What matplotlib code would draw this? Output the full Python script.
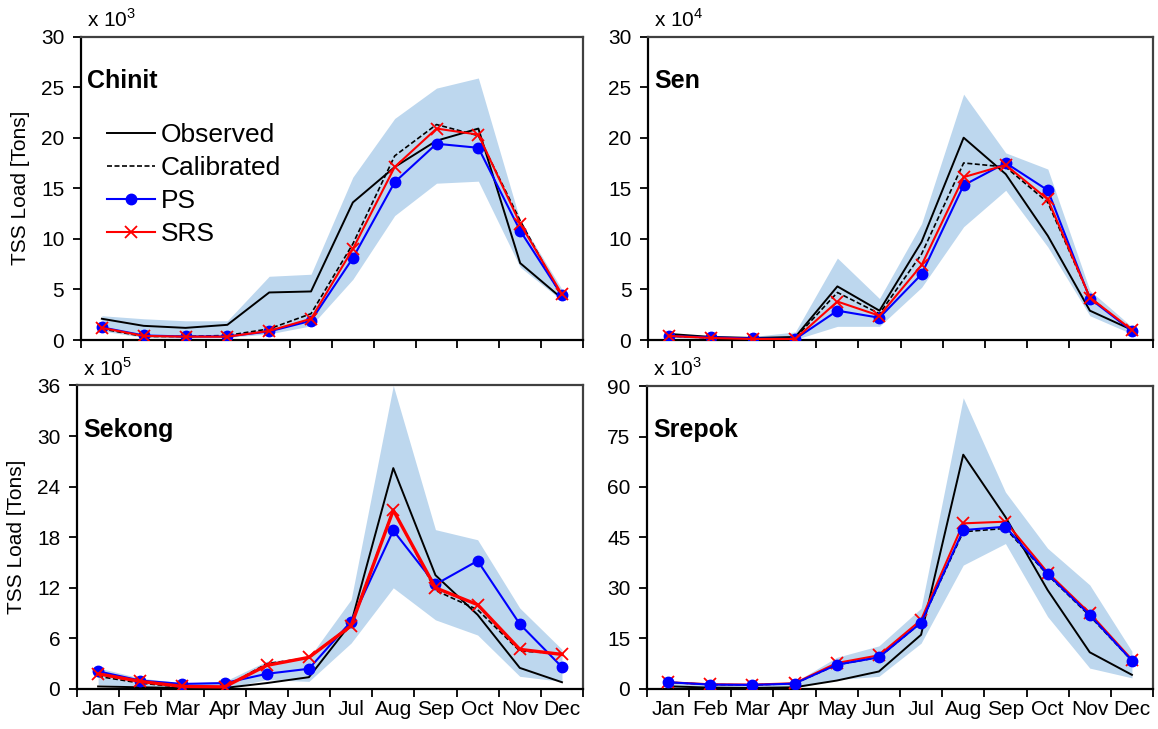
import numpy as np
import matplotlib
matplotlib.use('Agg')
import matplotlib.pyplot as plt

plt.rcParams['font.family'] = ['Liberation Sans', 'DejaVu Sans']
plt.rcParams['mathtext.fontset'] = 'custom'
plt.rcParams['mathtext.rm'] = 'Liberation Sans'

months = ['Jan', 'Feb', 'Mar', 'Apr', 'May', 'Jun', 'Jul', 'Aug', 'Sep', 'Oct', 'Nov', 'Dec']

# Chinit (x 10^3 tons)
chinit_obs = [2.1, 1.4, 1.2, 1.5, 4.7, 4.8, 13.6, 17.1, 19.7, 20.9, 7.6, 4.1]
chinit_cal = [1.1, 0.35, 0.35, 0.45, 1.1, 2.6, 9.5, 18.2, 21.3, 20.2, 11.8, 4.2]
chinit_ps = [1.25, 0.45, 0.35, 0.35, 0.85, 1.9, 8.1, 15.6, 19.4, 19.0, 10.8, 4.4]
chinit_srs = [1.2, 0.4, 0.33, 0.33, 0.9, 2.1, 9.0, 17.1, 20.9, 20.3, 11.5, 4.5]
chinit_hi = [2.4, 2.1, 1.9, 1.9, 6.3, 6.5, 16.1, 21.9, 24.9, 25.9, 11.8, 5.0]
chinit_lo = [0.9, 0.25, 0.2, 0.25, 0.6, 1.4, 6.0, 12.3, 15.5, 15.7, 7.2, 3.9]

# Sen (x 10^4 tons)
sen_obs = [0.6, 0.3, 0.2, 0.3, 5.3, 2.9, 9.7, 20.0, 16.4, 10.3, 2.9, 1.0]
sen_cal = [0.4, 0.2, 0.1, 0.2, 4.7, 2.6, 8.5, 17.5, 17.1, 13.6, 4.2, 0.9]
sen_ps = [0.4, 0.25, 0.15, 0.1, 2.9, 2.2, 6.5, 15.3, 17.5, 14.8, 4.1, 0.9]
sen_srs = [0.4, 0.2, 0.1, 0.1, 3.8, 2.4, 7.4, 16.1, 17.3, 13.9, 4.2, 1.0]
sen_hi = [0.6, 0.45, 0.35, 0.8, 8.1, 4.1, 11.5, 24.3, 18.5, 16.9, 4.9, 1.3]
sen_lo = [0.25, 0.1, 0.05, 0.05, 1.35, 1.35, 5.2, 11.2, 14.8, 9.2, 2.4, 0.6]

# Sekong (x 10^5 tons)
sekong_obs = [0.3, 0.2, 0.12, 0.12, 0.7, 1.4, 7.8, 26.2, 13.5, 8.8, 2.5, 0.8]
sekong_cal = [1.5, 0.7, 0.2, 0.2, 3.0, 3.7, 7.6, 21.3, 11.7, 9.4, 4.5, 4.2]
sekong_ps = [2.1, 1.0, 0.6, 0.7, 1.8, 2.4, 8.0, 18.8, 12.4, 15.2, 7.7, 2.6]
sekong_srs = [1.8, 0.9, 0.3, 0.25, 2.8, 3.75, 7.5, 21.2, 12.0, 10.0, 4.7, 4.1]
sekong_hi = [2.5, 1.3, 0.7, 0.9, 3.3, 3.7, 10.6, 36.0, 18.9, 17.7, 9.6, 4.7]
sekong_lo = [0.5, 0.3, 0.1, 0.1, 1.1, 0.9, 5.45, 12.0, 8.2, 6.4, 1.5, 0.9]

# Srepok (x 10^3 tons)
srepok_obs = [0.8, 0.4, 0.3, 0.5, 2.5, 5.2, 16.1, 69.6, 51.1, 29.4, 10.9, 4.2]
srepok_cal = [2.0, 1.3, 1.2, 1.6, 7.2, 9.4, 19.7, 46.7, 47.7, 33.9, 21.7, 8.4]
srepok_ps = [2.0, 1.3, 1.2, 1.6, 7.2, 9.4, 19.7, 47.2, 48.2, 34.1, 22.0, 8.4]
srepok_srs = [2.0, 1.4, 1.3, 1.7, 7.7, 10.0, 20.5, 49.2, 49.7, 34.6, 22.5, 8.7]
srepok_hi = [2.3, 1.8, 1.6, 2.0, 9.4, 12.8, 24.0, 86.5, 58.5, 41.8, 30.9, 11.2]
srepok_lo = [0.3, 0.1, 0.1, 0.3, 2.8, 3.75, 13.6, 36.8, 43.2, 21.5, 6.2, 3.3]

panels = [
    ('Chinit', '3', 30, 5, chinit_obs, chinit_cal, chinit_ps, chinit_srs, chinit_hi, chinit_lo),
    ('Sen', '4', 30, 5, sen_obs, sen_cal, sen_ps, sen_srs, sen_hi, sen_lo),
    ('Sekong', '5', 36, 6, sekong_obs, sekong_cal, sekong_ps, sekong_srs, sekong_hi, sekong_lo),
    ('Srepok', '3', 90, 15, srepok_obs, srepok_cal, srepok_ps, srepok_srs, srepok_hi, srepok_lo),
]

# axes boxes in figure fractions (left, bottom, width, height)
boxes = [
    [0.0699, 0.5336, 0.4335, 0.4163],
    [0.5596, 0.5336, 0.4361, 0.4163],
    [0.0665, 0.0549, 0.4370, 0.4163],
    [0.5587, 0.0549, 0.4370, 0.4156],
]

fig = plt.figure(figsize=(11.58, 7.29), dpi=100)
x = np.arange(1, 13)
fs = 15

for i, (name, exp, ymax, ystep, obs, cal, ps, srs, hi, lo) in enumerate(panels):
    ax = fig.add_axes(boxes[i])
    ax.fill_between(x, lo, hi, color='#BDD7EE', lw=0, zorder=1)
    ax.plot(x, obs, color='black', lw=1.4, label='Observed', zorder=3)
    ax.plot(x, cal, color='black', lw=1.2, ls=(0, (3, 1.5)), label='Calibrated', zorder=3)
    red_lw = 2.4 if name == 'Sekong' else 1.5
    ps_z, srs_z = (5, 4) if name == 'Srepok' else (4, 5)
    ax.plot(x, ps, color='#0000FF', lw=1.5, marker='o', ms=7.5, label='PS', zorder=ps_z)
    ax.plot(x, srs, color='#FF0000', lw=red_lw, marker='x', ms=8, mew=1.3, label='SRS', zorder=srs_z)

    ax.set_xlim(0.5, 12.5)
    ax.set_ylim(0, ymax)
    ax.set_yticks(np.arange(0, ymax + 0.1, ystep))
    ax.set_xticks(x)
    ax.set_xticks(np.arange(0.5, 13, 1), minor=True)
    ax.tick_params(axis='x', which='major', length=0, labelsize=fs, pad=8)
    ax.tick_params(axis='x', which='minor', length=6, width=1.3, direction='out')
    ax.tick_params(axis='y', length=6, width=1.3, direction='out', labelsize=fs, pad=6)
    if i >= 2:
        ax.set_xticklabels(months)
    else:
        ax.set_xticklabels([])

    for side in ['left', 'bottom']:
        ax.spines[side].set_color('black')
        ax.spines[side].set_linewidth(1.6)
    for side in ['top', 'right']:
        ax.spines[side].set_color('#404040')
        ax.spines[side].set_linewidth(1.6)

    ax.text(0.012, 0.855, name, transform=ax.transAxes, fontsize=18,
            fontweight='bold', va='center', ha='left')
    ax.text(0.012, 1.02, r'x 10$^\mathregular{' + exp + '}$', transform=ax.transAxes,
            fontsize=fs, va='bottom', ha='left')

    if i % 2 == 0:
        ax.set_ylabel('TSS Load [Tons]', fontsize=fs, labelpad=8)

    if i == 0:
        ax.legend(loc='upper left', bbox_to_anchor=(0.03, 0.75), frameon=False,
                  fontsize=19, handlelength=1.85, handletextpad=0.2,
                  labelspacing=0.34, borderaxespad=0)

plt.savefig('out.png', dpi=100)
